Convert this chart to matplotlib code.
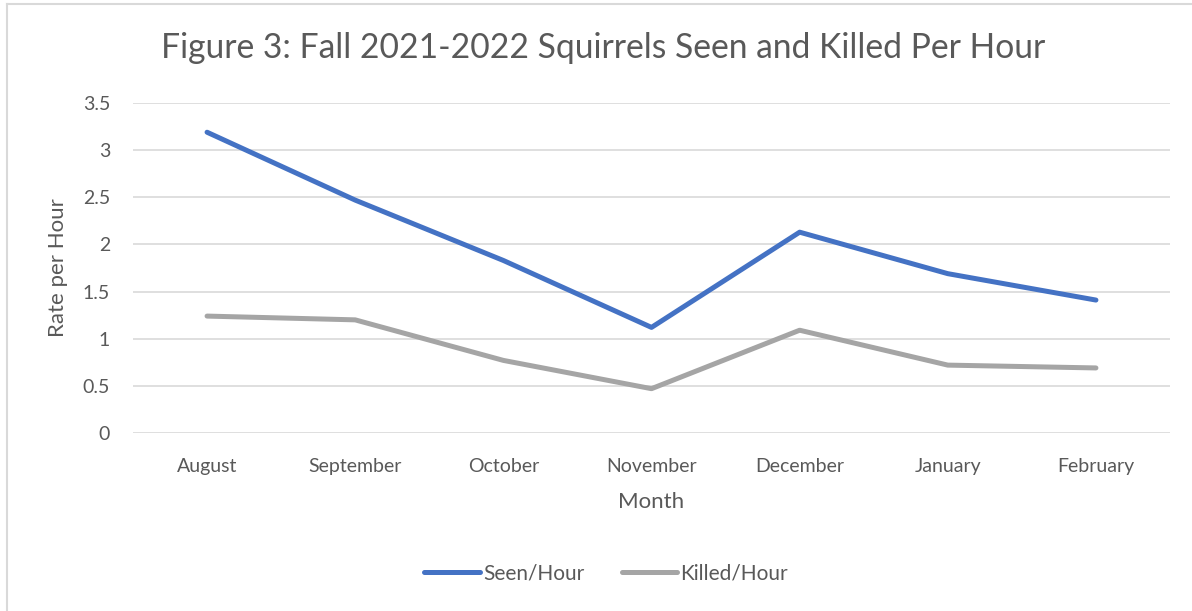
import matplotlib.pyplot as plt
from matplotlib.lines import Line2D

months = ['August', 'September', 'October', 'November', 'December', 'January', 'February']
seen_per_hour = [3.19, 2.47, 1.83, 1.12, 2.13, 1.69, 1.41]
killed_per_hour = [1.24, 1.20, 0.77, 0.47, 1.09, 0.72, 0.69]
y_ticks = [0, 0.5, 1, 1.5, 2, 2.5, 3, 3.5]
y_tick_labels = ['0', '0.5', '1', '1.5', '2', '2.5', '3', '3.5']

text_color = '#595959'
plt.rcParams['font.family'] = ['Lato', 'DejaVu Sans']

W, H = 1192, 611
fig = plt.figure(figsize=(W / 100, H / 100), dpi=100)
ax = fig.add_axes([133 / W, 1 - 433 / H, (1170 - 133) / W, (433 - 103) / H])

# chart frame: only the top and left edges show in the crop
frame_kw = dict(transform=fig.transFigure, color='#D9D9D9', linewidth=1.5)
fig.add_artist(Line2D([6.5 / W, 1], [1 - 4 / H, 1 - 4 / H], **frame_kw))
fig.add_artist(Line2D([6.5 / W, 6.5 / W], [0, 1 - 4 / H], **frame_kw))

x = range(len(months))
ax.plot(x, seen_per_hour, color='#4472C4', linewidth=3.6,
        solid_capstyle='round', solid_joinstyle='round', label='Seen/Hour')
ax.plot(x, killed_per_hour, color='#A5A5A5', linewidth=3.6,
        solid_capstyle='round', solid_joinstyle='round', label='Killed/Hour')

ax.set_xlim(-0.5, len(months) - 0.5)
ax.set_ylim(0, 3.5)
ax.set_yticks(y_ticks)
ax.set_yticklabels(y_tick_labels)
ax.set_xticks(list(x))
ax.set_xticklabels(months)
ax.tick_params(axis='both', length=0, colors=text_color, labelsize=14)
ax.tick_params(axis='x', pad=18)
ax.tick_params(axis='y', pad=16.5)

ax.grid(axis='y', color='#D9D9D9', linewidth=1.2)
ax.set_axisbelow(True)
for s in ax.spines.values():
    s.set_visible(False)

ax.set_xlabel('Month', color=text_color, fontsize=16, va='center')
ax.xaxis.set_label_coords(0.5, (433 - 502) / 330)
ax.set_ylabel('Rate per Hour', color=text_color, fontsize=16, va='center')
ax.yaxis.set_label_coords((58 - 133) / 1037, 0.5)

fig.text(603 / W, 1 - 48 / H, 'Figure 3: Fall 2021-2022 Squirrels Seen and Killed Per Hour',
         ha='center', va='center', fontsize=24.2, color=text_color)

fig.legend(loc='center', bbox_to_anchor=(606 / W, 1 - 573 / H), ncol=2, frameon=False,
           fontsize=15, labelcolor=text_color, handlelength=2.65, handletextpad=0.15,
           columnspacing=1.8)

fig.savefig('out.png', dpi=100)
